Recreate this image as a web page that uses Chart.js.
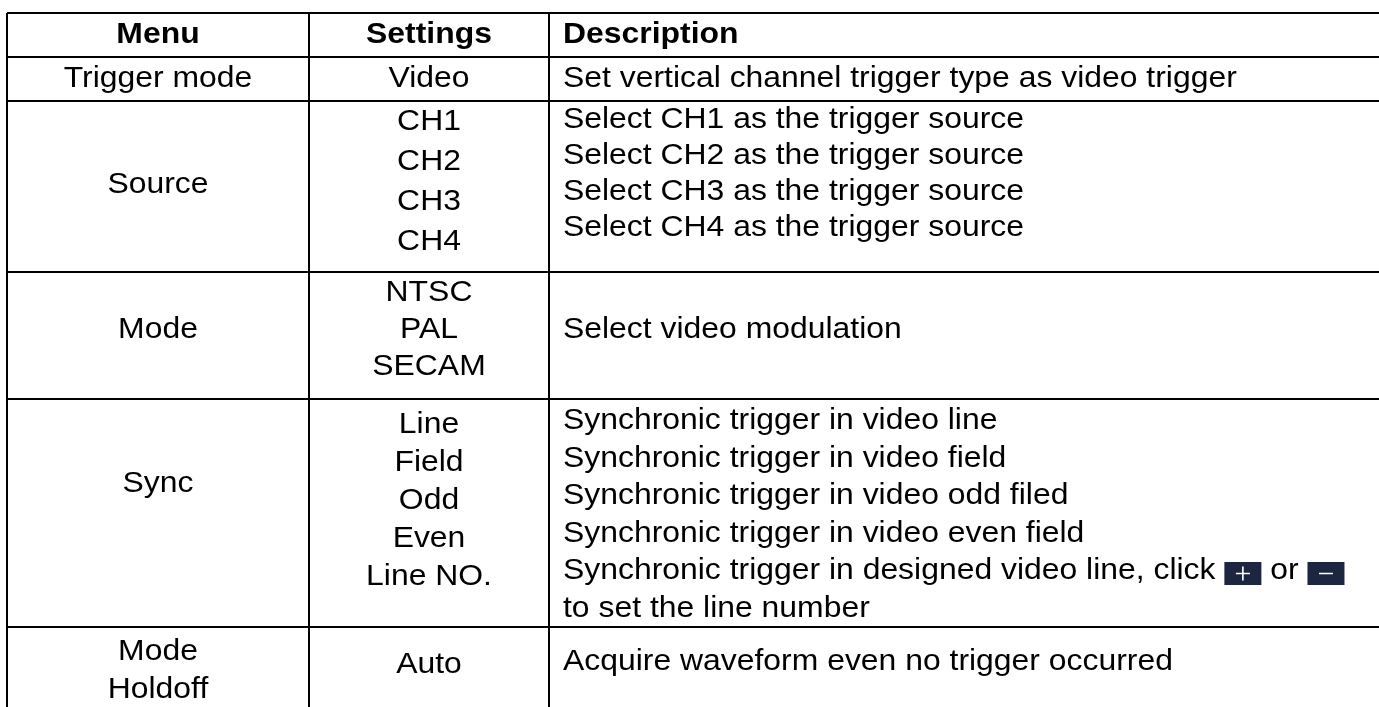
<!DOCTYPE html>
<html><head><meta charset="utf-8">
<script src="https://cdn.jsdelivr.net/npm/chart.js@4.4.1/dist/chart.umd.min.js"></script>
<style>html,body{margin:0;padding:0;background:#fff;overflow:hidden}#wrap{position:relative;width:1379px;height:707px}</style>
</head><body><div id="wrap"><canvas id="c" width="1379" height="707"></canvas></div>
<script>
// ---- table content ----
const headers = ["Menu", "Settings", "Description"];
const menus = [["Trigger mode"], ["Source"], ["Mode"], ["Sync"], ["Mode", "Holdoff"]];
const settings = [["Video"], ["CH1", "CH2", "CH3", "CH4"], ["NTSC", "PAL", "SECAM"], ["Line", "Field", "Odd", "Even", "Line NO."], ["Auto"]];
const descriptions = [
  ["Set vertical channel trigger type as video trigger"],
  ["Select CH1 as the trigger source", "Select CH2 as the trigger source", "Select CH3 as the trigger source", "Select CH4 as the trigger source"],
  ["Select video modulation"],
  ["Synchronic trigger in video line", "Synchronic trigger in video field", "Synchronic trigger in video odd filed", "Synchronic trigger in video even field", "Synchronic trigger in designed video line, click [+] or [-]", "to set the line number"],
  ["Acquire waveform even no trigger occurred"]
];

// ---- layout (pixels) ----
const W = 1379, H = 707;
const colEdges = [7, 309, 549, 1400];
const rowEdges = [13, 57, 101, 272, 399, 627, 707];
const FONT = '"Liberation Sans", Arial, sans-serif';
const FS = 29, SX = 1.1;
// per body row, per column: [shift of block centre from row middle, line step]
const cellLayout = [
  [[-0.5, 38], [-0.5, 38], [-0.5, 38]],
  [[-1.5, 38], [-4.5, 40], [-12.5, 36]],
  [[-5.5, 38], [-5.5, 37], [-5.5, 38]],
  [[-29, 38], [-12, 38], [1.75, 37.5]],
  [[4, 38], [-2, 38], [-5, 38]]
];

function drawText(ctx, t, x, y, align, bold) {
  ctx.save();
  ctx.translate(x, y);
  ctx.scale(SX, 1);
  ctx.font = (bold ? 'bold ' : '') + FS + 'px ' + FONT;
  ctx.textAlign = align;
  ctx.textBaseline = 'middle';
  ctx.fillStyle = '#000';
  if (t.indexOf('[') < 0) { ctx.fillText(t, 0, 0); ctx.restore(); return; }
  ctx.textAlign = 'left';
  const parts = t.split(/(\[[+-]\])/);
  let cx = 0;
  for (const p of parts) {
    if (!p) continue;
    if (p === '[+]' || p === '[-]') {
      const bw = 37 / SX, bh = 23, by = -bh / 2 + 2.5;
      ctx.fillStyle = '#1c2640';
      ctx.fillRect(cx, by, bw, bh);
      ctx.strokeStyle = '#fff'; ctx.lineWidth = 1.5;
      const mx = cx + bw / 2, my = by + bh / 2, arm = 7;
      ctx.beginPath();
      ctx.moveTo(mx - arm / SX, my); ctx.lineTo(mx + arm / SX, my);
      if (p === '[+]') { ctx.moveTo(mx, my - arm); ctx.lineTo(mx, my + arm); }
      ctx.stroke();
      ctx.fillStyle = '#000';
      cx += bw;
    } else {
      ctx.fillText(p, cx, 0);
      cx += ctx.measureText(p).width;
    }
  }
  ctx.restore();
}

const tablePlugin = {
  id: 'tableText',
  afterDraw(chart) {
    const ctx = chart.ctx, xs = chart.scales.x, ys = chart.scales.y;
    const colMid = i => (xs.getPixelForValue(colEdges[i]) + Math.min(xs.getPixelForValue(colEdges[i + 1]), W)) / 2;
    const descX = xs.getPixelForValue(colEdges[2]) + 14;
    const place = (lines, r, lay) => {
      const top = ys.getPixelForValue(rowEdges[r]), bot = ys.getPixelForValue(rowEdges[r + 1]);
      const mid = (top + bot) / 2 + lay[0];
      return lines.map((t, k) => [t, mid + (k - (lines.length - 1) / 2) * lay[1]]);
    };
    headers.forEach((h, i) => {
      const y = place([h], 0, [0, 0])[0][1];
      if (i < 2) drawText(ctx, h, colMid(i), y, 'center', true);
      else drawText(ctx, h, descX, y, 'left', true);
    });
    for (let r = 0; r < menus.length; r++) {
      const L = cellLayout[r];
      place(menus[r], r + 1, L[0]).forEach(([t, y]) => drawText(ctx, t, colMid(0), y, 'center'));
      place(settings[r], r + 1, L[1]).forEach(([t, y]) => drawText(ctx, t, colMid(1), y, 'center'));
      place(descriptions[r], r + 1, L[2]).forEach(([t, y]) => drawText(ctx, t, descX, y, 'left'));
    }
  }
};

const gridScale = (edges, extra) => Object.assign({
  type: 'linear',
  ticks: { display: false },
  border: { display: false },
  grid: { color: '#000', lineWidth: 2, drawTicks: false, drawOnChartArea: true },
  afterBuildTicks: s => { s.ticks = edges.map(v => ({ value: v })); }
}, extra);

new Chart(document.getElementById('c'), {
  type: 'scatter',
  data: { datasets: [] },
  options: {
    responsive: false,
    animation: false,
    events: [],
    layout: { padding: { top: rowEdges[0], left: colEdges[0], right: 0, bottom: 0 } },
    plugins: { legend: { display: false }, tooltip: { enabled: false } },
    scales: {
      x: gridScale(colEdges.filter(v => v <= W), { min: colEdges[0], max: W }),
      y: gridScale(rowEdges.slice(0, -1), { min: rowEdges[0], max: H, reverse: true })
    }
  },
  plugins: [tablePlugin]
});
</script></body></html>
